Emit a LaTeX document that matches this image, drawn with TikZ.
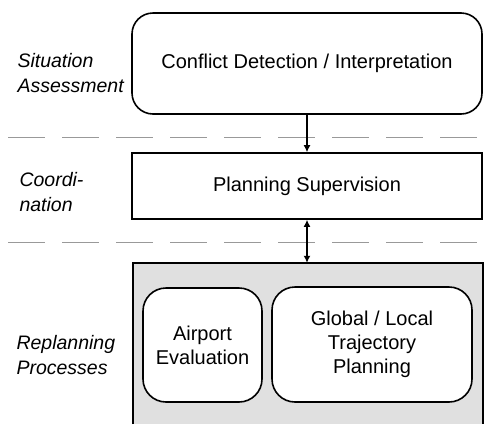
\documentclass[tikz,border=0pt]{standalone}
\usepackage{fontspec}
\setmainfont{Liberation Sans}
\usetikzlibrary{arrows.meta}

\begin{document}
\begin{tikzpicture}[x=1pt, y=-1pt, every node/.style={font=\fontsize{20}{24}\selectfont},
    caja/.style={draw, line width=1.6pt, inner sep=0pt, align=center},
    etiqueta/.style={anchor=west, align=left, font=\fontsize{19.5}{25}\selectfont\itshape},
    flecha/.style={line width=1.6pt, -{Latex[length=7pt, width=7pt]}},
    dobleflecha/.style={line width=1.6pt, {Latex[length=7pt, width=7pt]}-{Latex[length=7pt, width=7pt]}},
    separador/.style={gray!80, line width=0.8pt, dash pattern=on 37pt off 17pt, dash phase=-8pt}]
    \useasboundingbox (0,0) rectangle (489,424);

    % Separadores entre niveles.
    \draw[separador] (0,137) -- (489,137);
    \draw[separador] (0,242) -- (489,242);

    % Niveles de la arquitectura.
    \node[caja, rounded corners=21pt, minimum width=350, minimum height=101] (detect) at (307,63.5)
        {Conflict Detection / Interpretation};
    \node[caja, minimum width=350, minimum height=66] (super) at (307,186) {Planning Supervision};
    \node[fill=black!12, inner sep=0pt, minimum width=350, minimum height=161] (replan) at (308,343.5) {};
    \draw[line width=1.6pt] (replan.south west) -- (replan.north west) -- (replan.north east) -- (replan.south east);
    \node[caja, fill=white, rounded corners=23pt, minimum width=119, minimum height=114] (airport) at (202.5,345)
        {Airport\\Evaluation};
    \node[caja, fill=white, rounded corners=23pt, minimum width=200, minimum height=115] (traj) at (372,344.5)
        {Global / Local\\Trajectory\\Planning};

    \draw[flecha] (detect.south) -- (super.north);
    \draw[dobleflecha] (super.south) -- (replan.north -| super.south);

    % Nombres de los niveles.
    \node[etiqueta] (sit) at (14,73) {Situation\\Assessment};
    \node[etiqueta] (coord) at (16,192) {Coordi-\\nation};
    \node[etiqueta] (proc) at (13,355) {Replanning\\Processes};
\end{tikzpicture}
\end{document}
